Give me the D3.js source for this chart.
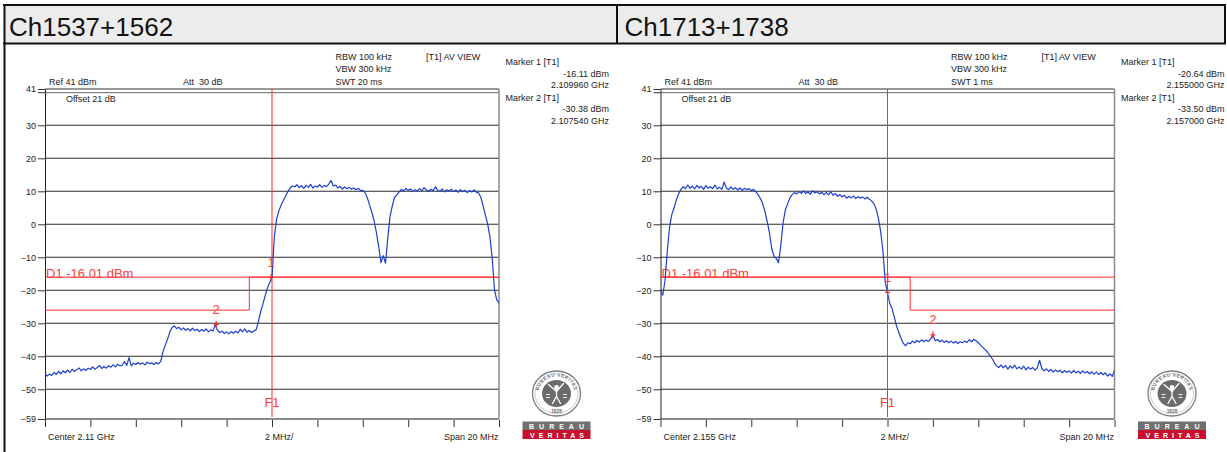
<!DOCTYPE html>
<html>
<head>
<meta charset="utf-8">
<script src="https://cdn.jsdelivr.net/npm/d3@7"></script>
<style>
  body { margin: 0; background: #fff; }
  svg { display: block; font-family: 'Liberation Sans', Arial, sans-serif; }
  .title { font-size: 26px; fill: #111; }
  .info { font-size: 9px; fill: #222; white-space: pre; }
  .red-label { font-size: 13px; fill: #ff3d3d; }
  .tick text { font-size: 9px; fill: #222; }
</style>
</head>
<body>
<svg width="1227" height="452"></svg>
<script>
// ---- data ----
const titles = ['Ch1537+1562', 'Ch1713+1738'];
const centerFreqs = [2110, 2155];      // MHz
const spanMHz = 20;
const refLevel = 41;
const bottomLevel = -59;
const yTicks = [41, 30, 20, 10, 0, -10, -20, -30, -40, -50, -59];
const displayLine = -16.01;
const sweepStep = 0.1;                 // MHz between trace points

// trace of the left sweep, 2100.0 ... 2120.0 MHz
const traceLeft = [
  -45.2, -46.0, -45.4, -45.8, -44.9, -45.5, -44.6, -45.3, -44.4, -45.0,
  -44.2, -44.9, -43.9, -44.6, -44.1, -43.5, -44.4, -43.8, -44.3, -43.6,
  -44.0, -43.2, -43.9, -43.4, -42.8, -43.7, -43.1, -43.6, -42.9, -43.3,
  -42.6, -43.2, -42.4, -42.9, -42.7, -41.6, -42.8, -40.4, -42.9, -42.1,
  -42.5, -41.9, -42.4, -42.0, -42.6, -41.8, -42.2, -42.0, -42.5, -41.9,
  -42.3, -41.5, -38.5, -36.6, -34.8, -32.6, -31.3, -30.8, -31.6, -31.2,
  -32.0, -31.4, -32.1, -31.6, -32.3, -31.5, -32.2, -31.8, -32.5, -31.9,
  -32.4, -31.7, -32.6, -32.0, -32.3, -30.4, -32.1, -32.8, -32.4, -33.1,
  -32.6, -33.2, -32.5, -33.0, -32.4, -32.9, -31.8, -32.6, -31.7, -32.7,
  -32.2, -32.8, -32.3, -32.0, -29.5, -26.5, -24.2, -21.6, -19.3, -17.6,
  -16.1, -4.0, 1.5, 4.0, 5.8, 7.2, 8.6, 9.9, 11.0, 11.6,
  11.4, 12.0, 11.1, 11.7, 10.9, 11.8, 11.2, 12.1, 11.0, 11.6,
  11.3, 12.0, 11.2, 11.8, 11.4, 12.2, 13.3, 11.6, 11.9, 11.0,
  11.5, 10.7, 11.3, 10.8, 11.2, 10.6, 11.0, 10.5, 10.9, 10.2,
  10.3, 9.6, 8.0, 5.8, 3.6, 1.0, -2.5, -6.8, -11.6, -9.5,
  -11.8, -4.2, 2.4, 5.6, 8.2, 8.9, 9.8, 10.6, 10.1, 10.9,
  10.3, 10.7, 9.9, 10.5, 10.1, 10.8, 10.2, 11.1, 10.4, 10.0,
  10.6, 10.2, 11.4, 10.3, 10.0, 10.7, 9.8, 10.5, 10.1, 10.6,
  9.9, 10.4, 9.7, 10.5, 9.9, 10.3, 9.6, 10.2, 9.8, 10.4,
  9.7, 9.5, 8.2, 5.6, 2.8, 0.1, -3.8, -10.2, -19.8, -22.9,
  -23.8
];

// trace of the right sweep, 2145.0 ... 2165.0 MHz
const traceRight = [
  -19.9, -21.5, -17.0, -8.0, -0.8, 3.0, 5.0, 7.4, 9.3, 10.6,
  11.4, 10.8, 11.9, 10.9, 11.6, 10.7, 11.8, 11.0, 11.5, 10.6,
  11.7, 10.9, 11.4, 10.8, 11.9, 10.7, 11.2, 10.6, 12.8, 11.0,
  10.5, 11.3, 10.6, 11.1, 10.4, 11.0, 10.3, 10.9, 10.5, 10.8,
  10.2, 10.6, 9.9, 9.0, 7.8, 6.2, 3.9, 0.9, -2.6, -7.4,
  -9.6, -10.4, -11.6, -6.4, 0.4, 4.4, 6.2, 8.0, 9.0, 9.6,
  9.2, 9.9, 9.4, 10.1, 9.3, 9.8, 9.1, 10.2, 9.5, 9.9,
  9.2, 9.7, 9.0, 9.6, 8.9, 9.9, 8.8, 9.3, 8.5, 9.0,
  8.3, 8.8, 7.9, 8.5, 8.0, 8.6, 7.8, 8.4, 7.9, 8.3,
  7.7, 8.2, 7.6, 7.1, 6.2, 4.6, 1.8, -2.2, -8.2, -17.5,
  -20.6, -24.0, -25.5, -28.1, -30.9, -32.8, -34.6, -36.1, -36.8, -35.9,
  -36.2, -35.4, -35.9, -35.2, -35.7, -35.0, -35.6, -35.1, -35.5, -34.8,
  -33.5, -35.3, -34.9, -35.6, -35.1, -35.8, -35.3, -35.9, -35.4, -36.0,
  -35.5, -36.1, -35.6, -35.9, -35.4, -35.8, -35.0, -35.6, -34.9, -35.3,
  -35.9, -36.6, -37.3, -38.0, -38.7, -39.6, -40.6, -41.8, -42.9, -43.4,
  -42.6, -43.5, -42.8, -43.9, -42.9, -43.6, -42.7, -43.8, -43.2, -43.9,
  -43.0, -44.1, -43.3, -43.9, -43.4, -44.2, -43.5, -41.2, -43.7, -44.4,
  -43.8, -44.6, -44.0, -44.8, -44.1, -44.7, -44.2, -45.0, -44.3, -44.9,
  -44.4, -45.1, -44.3, -45.0, -44.5, -45.2, -44.4, -45.1, -44.6, -45.3,
  -44.7, -45.4, -44.8, -45.5, -44.9, -45.6, -45.0, -46.0, -45.3, -46.1,
  -44.3
];

// limit lines
const limitFreqLeft = [2100, 2109, 2109, 2120];
const limitLevelLeft = [-26, -26, -16.01, -16.01];
const limitFreqRight = [2145, 2156, 2156, 2165];
const limitLevelRight = [-16.01, -16.01, -26, -26];

// markers
const markerFreqLeft = [2109.96, 2107.54];
const markerLevelLeft = [-16.11, -30.38];
const markerFreqRight = [2155.0, 2157.0];
const markerLevelRight = [-20.64, -33.50];

// texts
const settingsLeft = ['RBW 100 kHz', 'VBW 300 kHz', 'SWT 20 ms'];
const settingsRight = ['RBW 100 kHz', 'VBW 300 kHz', 'SWT 1 ms'];
const markerTextLeft = [['Marker 1 [T1]', '-16.11 dBm', '2.109960 GHz'], ['Marker 2 [T1]', '-30.38 dBm', '2.107540 GHz']];
const markerTextRight = [['Marker 1 [T1]', '-20.64 dBm', '2.155000 GHz'], ['Marker 2 [T1]', '-33.50 dBm', '2.157000 GHz']];
const centerLabels = ['Center 2.11 GHz', 'Center 2.155 GHz'];

// ---- drawing ----
const svg = d3.select('svg');
const width = +svg.attr('width');
const height = +svg.attr('height');

const panelWidth = 615.5;
const plot = { left: 45, right: 499, top: 89, bottom: 419 };
const red = '#ff2b2b';

const panels = [
  { title: titles[0], center: centerFreqs[0], trace: traceLeft,
    limitF: limitFreqLeft, limitL: limitLevelLeft,
    markerF: markerFreqLeft, markerL: markerLevelLeft,
    settings: settingsLeft, markerText: markerTextLeft, centerLabel: centerLabels[0] },
  { title: titles[1], center: centerFreqs[1], trace: traceRight,
    limitF: limitFreqRight, limitL: limitLevelRight,
    markerF: markerFreqRight, markerL: markerLevelRight,
    settings: settingsRight, markerText: markerTextRight, centerLabel: centerLabels[1] }
];

draw_table_frame();
panels.forEach((p, i) => draw_panel(p, i, i * panelWidth));

// header row of the table plus its borders
function draw_table_frame() {
  svg.append('rect')
    .attr('x', 4).attr('y', 5)
    .attr('width', width - 6).attr('height', 38)
    .attr('fill', '#ececec');

  const frame = [
    [3, 5, width - 1, 5],
    [3, 43.5, width - 1, 43.5],
    [4.5, 4, 4.5, height],
    [617, 4, 617, 44],
    [width - 2, 4, width - 2, 44]
  ];
  svg.selectAll('.frame-line')
    .data(frame)
    .enter()
    .append('line')
    .attr('class', 'frame-line')
    .attr('x1', d => d[0]).attr('y1', d => d[1])
    .attr('x2', d => d[2]).attr('y2', d => d[3])
    .attr('stroke', '#111')
    .attr('stroke-width', 2);
}

function draw_panel(p, idx, dx) {
  const g = svg.append('g').attr('transform', `translate(${dx},0)`);

  g.append('text')
    .attr('class', 'title')
    .attr('x', 9).attr('y', 36)
    .text(p.title);

  const x = d3.scaleLinear()
    .domain([p.center - spanMHz / 2, p.center + spanMHz / 2])
    .range([plot.left, plot.right]);

  const y = d3.scaleLinear()
    .domain([bottomLevel, refLevel])
    .range([plot.bottom, plot.top]);

  // horizontal grid
  g.selectAll('.grid')
    .data(yTicks.filter(v => v !== refLevel && v !== bottomLevel))
    .enter()
    .append('line')
    .attr('class', 'grid')
    .attr('x1', plot.left).attr('x2', plot.right)
    .attr('y1', d => y(d)).attr('y2', d => y(d))
    .attr('stroke', '#2b2b2b')
    .attr('stroke-width', 1.1);

  // frame: double top line, grey right and bottom
  g.append('line')
    .attr('x1', plot.left).attr('x2', plot.right)
    .attr('y1', y(refLevel)).attr('y2', y(refLevel))
    .attr('stroke', '#333');
  g.append('line')
    .attr('x1', plot.left).attr('x2', plot.right)
    .attr('y1', y(refLevel) + 3.7).attr('y2', y(refLevel) + 3.7)
    .attr('stroke', '#666');
  g.append('line')
    .attr('x1', plot.left - 7).attr('x2', plot.left)
    .attr('y1', y(refLevel) + 3.7).attr('y2', y(refLevel) + 3.7)
    .attr('stroke', '#333');
  g.append('line')
    .attr('x1', plot.right).attr('x2', plot.right)
    .attr('y1', y(refLevel)).attr('y2', y(bottomLevel))
    .attr('stroke', '#8a8a8a')
    .attr('stroke-width', 1.5);
  g.append('line')
    .attr('x1', plot.left).attr('x2', plot.right)
    .attr('y1', y(bottomLevel)).attr('y2', y(bottomLevel))
    .attr('stroke', '#8a8a8a')
    .attr('stroke-width', 2);

  // left axis
  const y_axis = d3.axisLeft(y)
    .tickValues(yTicks)
    .tickSize(7)
    .tickSizeOuter(0)
    .tickPadding(2)
    .tickFormat(d3.format('d'));
  const y_axis_g = g.append('g')
    .attr('transform', `translate(${plot.left},0)`)
    .call(y_axis);
  y_axis_g.select('.domain').attr('stroke', '#222');
  y_axis_g.selectAll('.tick line').attr('stroke', '#333');
  y_axis_g.selectAll('.tick text').attr('font-family', null).attr('font-size', null);

  // bottom ticks every 2 MHz
  const x_ticks = d3.range(0, spanMHz + 1, 2).map(k => x.domain()[0] + k);
  const x_axis = d3.axisBottom(x)
    .tickValues(x_ticks)
    .tickSize(7)
    .tickSizeOuter(0)
    .tickFormat('');
  const x_axis_g = g.append('g')
    .attr('transform', `translate(0,${plot.bottom + 1})`)
    .call(x_axis);
  x_axis_g.select('.domain').remove();
  x_axis_g.selectAll('.tick line').attr('stroke', '#333');

  // instrument info texts
  const info = (tx, ty, t, anchor) => g.append('text')
    .attr('class', 'info')
    .attr('x', tx).attr('y', ty)
    .attr('text-anchor', anchor || 'start')
    .text(t);

  info(49, 84.5, 'Ref 41 dBm');
  info(183, 84.5, 'Att  30 dB');
  info(66, 102, 'Offset 21 dB');
  p.settings.forEach((t, k) => info(335.5, 60 + k * 12.4, t));
  info(426, 60, '[T1] AV VIEW');
  p.markerText.forEach((block, k) => {
    const base = 65 + k * 35.5;
    info(505.5, base, block[0]);
    info(609, base + 11.6, block[1], 'end');
    info(609, base + 23, block[2], 'end');
  });
  info(48, 440, p.centerLabel);
  info(265, 440, '2 MHz/');
  info(498.5, 440, 'Span 20 MHz', 'end');

  // clip for the trace
  const clip_id = 'clip' + idx;
  g.append('clipPath')
    .attr('id', clip_id)
    .append('rect')
    .attr('x', plot.left).attr('y', plot.top)
    .attr('width', plot.right - plot.left)
    .attr('height', plot.bottom - plot.top);

  // display line D1 and limit line
  g.append('line')
    .attr('x1', plot.left).attr('x2', plot.right)
    .attr('y1', y(displayLine)).attr('y2', y(displayLine))
    .attr('stroke', red);

  const limit_line = d3.line()
    .x(d => x(d[0]))
    .y(d => y(d[1]));
  g.append('path')
    .attr('d', limit_line(p.limitF.map((f, k) => [f, p.limitL[k]])))
    .attr('fill', 'none')
    .attr('stroke', red);

  g.append('text')
    .attr('class', 'red-label')
    .attr('x', plot.left + 1).attr('y', y(displayLine) + 1)
    .text('D1 -16.01 dBm');

  // F1 frequency line
  g.append('line')
    .attr('x1', x(p.center)).attr('x2', x(p.center))
    .attr('y1', plot.top).attr('y2', plot.bottom - 2)
    .attr('stroke', red);
  g.append('text')
    .attr('class', 'red-label')
    .attr('x', x(p.center)).attr('y', 407)
    .attr('text-anchor', 'middle')
    .text('F1');

  // the trace itself
  const start = x.domain()[0];
  const line_creator = d3.line()
    .x((d, k) => x(start + k * sweepStep))
    .y(d => y(d));
  g.append('path')
    .attr('clip-path', `url(#${clip_id})`)
    .attr('d', line_creator(p.trace))
    .attr('fill', 'none')
    .attr('stroke', '#1d3fd0')
    .attr('stroke-width', 1.2)
    .attr('stroke-linejoin', 'round');

  // markers
  p.markerF.forEach((f, k) => {
    const mx = x(f);
    const my = y(p.markerL[k]);
    g.append('line')
      .attr('x1', mx).attr('x2', mx)
      .attr('y1', my - 3.5).attr('y2', my + 3.5)
      .attr('stroke', red).attr('stroke-width', 1.2);
    g.append('line')
      .attr('x1', mx - 2.5).attr('x2', mx + 2.5)
      .attr('y1', my).attr('y2', my)
      .attr('stroke', red).attr('stroke-width', 1.2);
    g.append('text')
      .attr('class', 'red-label')
      .attr('x', mx).attr('y', my - 10.5)
      .attr('text-anchor', 'middle')
      .text(k + 1);
  });

  draw_logo(g, 556.5);
}

// Bureau Veritas stamp in the lower right of each panel
function draw_logo(g, cx) {
  const cy = 393.5;
  g.append('ellipse')
    .attr('cx', cx).attr('cy', cy).attr('rx', 24).attr('ry', 22.5)
    .attr('fill', '#fff').attr('stroke', '#7d7d7d').attr('stroke-width', 1.3);
  g.append('ellipse')
    .attr('cx', cx).attr('cy', cy).attr('rx', 21.5).attr('ry', 20)
    .attr('fill', 'none').attr('stroke', '#a8a8a8').attr('stroke-width', 0.6);

  const arc_id = 'arc' + Math.round(cx);
  g.append('path')
    .attr('id', arc_id)
    .attr('d', `M${cx - 18},${cy} A18,17 0 0,1 ${cx + 18},${cy}`)
    .attr('fill', 'none');
  g.append('text')
    .attr('font-size', 4.6).attr('font-weight', 'bold').attr('fill', '#6a6a6a')
    .attr('letter-spacing', 0.6)
    .append('textPath')
    .attr('href', '#' + arc_id)
    .attr('startOffset', '50%')
    .attr('text-anchor', 'middle')
    .text('BUREAU VERITAS');

  g.append('ellipse')
    .attr('cx', cx).attr('cy', cy).attr('rx', 14.5).attr('ry', 13.5)
    .attr('fill', '#6b6b6b');
  // white figure
  const fig = g.append('g')
    .attr('stroke', '#fff').attr('stroke-width', 1.3)
    .attr('fill', 'none').attr('stroke-linecap', 'round');
  fig.append('circle').attr('cx', cx).attr('cy', cy - 6).attr('r', 1.8).attr('fill', '#fff');
  fig.append('path').attr('d', `M${cx},${cy - 4} L${cx},${cy + 3} L${cx - 4},${cy + 10} M${cx},${cy + 3} L${cx + 4},${cy + 10}`);
  fig.append('path').attr('d', `M${cx - 8},${cy - 9} L${cx},${cy - 2} L${cx + 7},${cy - 10}`);
  fig.append('path').attr('d', `M${cx - 10},${cy + 1} l3,0 M${cx - 10},${cy + 4} l3,0 M${cx + 7},${cy + 1} l3,0 M${cx + 7},${cy + 4} l3,0`)
    .attr('stroke-width', 0.9);

  g.append('text')
    .attr('x', cx).attr('y', cy + 19)
    .attr('text-anchor', 'middle')
    .attr('font-size', 4.8).attr('font-weight', 'bold').attr('fill', '#6a6a6a')
    .text('1828');

  g.append('rect')
    .attr('x', cx - 34).attr('y', 421.5).attr('width', 68).attr('height', 8.5)
    .attr('fill', '#707070');
  g.append('rect')
    .attr('x', cx - 34).attr('y', 430).attr('width', 68).attr('height', 9)
    .attr('fill', '#c8102e');
  g.append('text')
    .attr('x', cx + 2.5).attr('y', 428.7)
    .attr('text-anchor', 'middle')
    .attr('font-size', 7).attr('font-weight', 'bold').attr('fill', '#fff')
    .attr('letter-spacing', 5)
    .text('BUREAU');
  g.append('text')
    .attr('x', cx + 2.5).attr('y', 437.6)
    .attr('text-anchor', 'middle')
    .attr('font-size', 7).attr('font-weight', 'bold').attr('fill', '#fff')
    .attr('letter-spacing', 4)
    .text('VERITAS');
}
</script>
</body>
</html>
